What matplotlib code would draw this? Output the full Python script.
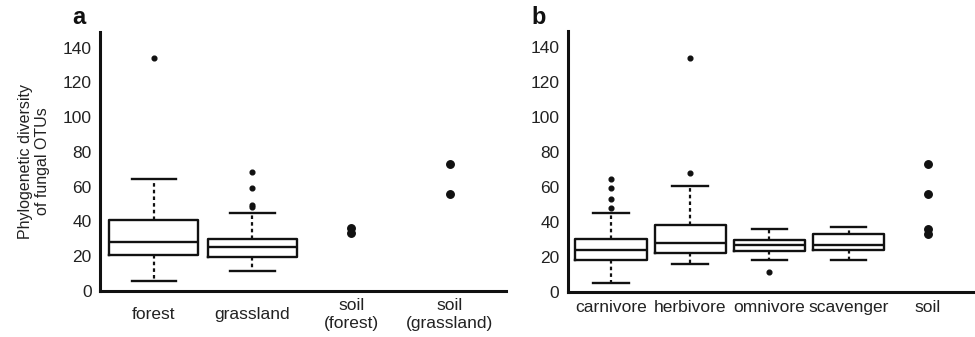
import matplotlib
matplotlib.use("Agg")
import matplotlib.pyplot as plt

plt.rcParams['font.family'] = ['Liberation Sans', 'DejaVu Sans']

# ---- Panel a data ----
cats_a = ["forest", "grassland", "soil\n(forest)", "soil\n(grassland)"]
box_a_labels = ["forest", "grassland"]
a_whislo = [5.5, 11.3]
a_q1 = [20.5, 19.5]
a_med = [28.3, 25.5]
a_q3 = [40.8, 29.7]
a_whishi = [64.5, 44.6]
a_fliers = [[133.9], [68.2, 59.5, 49.2, 48.3]]
soil_a_forest = [36.0, 33.3]
soil_a_grassland = [73.2, 55.9]

# ---- Panel b data ----
cats_b = ["carnivore", "herbivore", "omnivore", "scavenger", "soil"]
b_whislo = [5.1, 15.7, 17.8, 18.3]
b_q1 = [18.0, 22.2, 23.2, 23.9]
b_med = [23.9, 27.8, 26.8, 26.8]
b_q3 = [29.9, 38.3, 29.7, 32.7]
b_whishi = [45.1, 60.1, 35.6, 36.8]
b_fliers = [[64.3, 59.3, 53.1, 48.0], [133.6, 67.9], [11.1], []]
soil_b = [72.9, 55.6, 35.9, 33.0]

yticks = [0, 20, 40, 60, 80, 100, 120, 140]

TXT = '#222222'
FS = 12.5
fig = plt.figure(figsize=(9.75, 3.37), dpi=100)
ax_a = fig.add_axes([0.1026, 0.1365, 0.4164, 0.7685])
ax_b = fig.add_axes([0.5823, 0.135, 0.4157, 0.773])

def make_stats(whislo, q1, med, q3, whishi, fliers):
    return [dict(whislo=w0, q1=a, med=m, q3=b, whishi=w1, fliers=f)
            for w0, a, m, b, w1, f in zip(whislo, q1, med, q3, whishi, fliers)]

box_kw = dict(
    widths=0.9, showfliers=True, patch_artist=False,
    boxprops=dict(color='#111111', lw=1.7),
    medianprops=dict(color='#111111', lw=1.7),
    whiskerprops=dict(color='#111111', lw=1.6, linestyle=(0, (1.6, 1.4))),
    capprops=dict(color='#111111', lw=1.7),
    flierprops=dict(marker='o', markersize=3.4, markerfacecolor='#111111',
                    markeredgecolor='#111111', linestyle='none'),
)

ax_a.bxp(make_stats(a_whislo, a_q1, a_med, a_q3, a_whishi, a_fliers),
         positions=[1, 2], **box_kw)
ax_a.plot([3] * len(soil_a_forest), soil_a_forest, 'o', color='#111111', ms=5.4)
ax_a.plot([4] * len(soil_a_grassland), soil_a_grassland, 'o', color='#111111', ms=5.4)

ax_b.bxp(make_stats(b_whislo, b_q1, b_med, b_q3, b_whishi, b_fliers),
         positions=[1, 2, 3, 4], **box_kw)
ax_b.plot([5] * len(soil_b), soil_b, 'o', color='#111111', ms=5.4)

for ax, cats in ((ax_a, cats_a), (ax_b, cats_b)):
    ax.set_ylim(0, 149)
    ax.set_xlim(0.455, len(cats) + 0.57)
    ax.set_yticks(yticks)
    ax.set_yticklabels([str(t) for t in yticks], fontsize=FS, color=TXT)
    ax.set_xticks(range(1, len(cats) + 1))
    ax.set_xticklabels(cats, fontsize=FS, color=TXT)
    for s in ('top', 'right'):
        ax.spines[s].set_visible(False)
    for s in ('left', 'bottom'):
        ax.spines[s].set_linewidth(2.2)
        ax.spines[s].set_color('#111111')
    ax.tick_params(axis='both', length=0)
    ax.tick_params(axis='y', pad=6)
    ax.set_facecolor('none')

ax_b.tick_params(axis='x', pad=6)
ax_a.tick_params(axis='x', pad=17)
for lbl in ax_a.get_xticklabels():
    lbl.set_va('center')
    lbl.set_linespacing(1.3)

ax_a.set_ylabel("Phylogenetic diversity\nof fungal OTUs", fontsize=11.5,
                color=TXT, labelpad=9, linespacing=1.2)

fig.text(72 / 975, 1 - 18 / 337, "a", fontsize=17, fontweight='bold',
         ha='left', va='center', color='#111111')
fig.text(531 / 975, 1 - 18 / 337, "b", fontsize=17, fontweight='bold',
         ha='left', va='center', color='#111111')

fig.savefig("out.png", dpi=100)
